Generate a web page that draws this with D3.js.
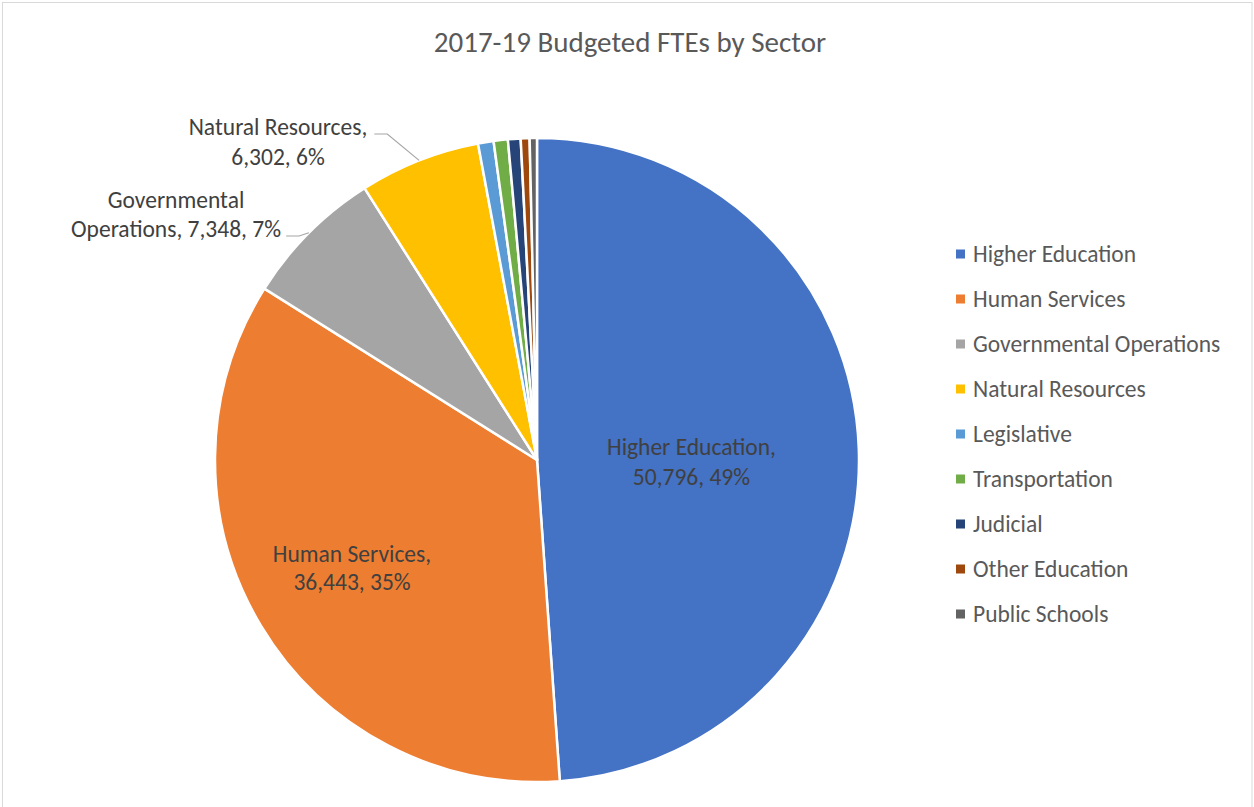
<!DOCTYPE html>
<html>
<head>
<meta charset="utf-8">
<script src="https://cdn.jsdelivr.net/npm/d3@7"></script>
<style>
  html, body { margin: 0; padding: 0; background: #fff; }
  svg { display: block; font-family: Carlito, Calibri, Lato, "Open Sans", sans-serif; }
</style>
</head>
<body>
<div id="chart"></div>
<script>
(function () {

  /* ── Data ─────────────────────────────────────────────────────────────── */
  const sectors = ['Higher Education', 'Human Services', 'Governmental Operations',
    'Natural Resources', 'Legislative', 'Transportation', 'Judicial',
    'Other Education', 'Public Schools'];
  const ftes = [50796, 36443, 7348, 6302, 810, 740, 660, 460, 380];
  const colors = ['#4472C4', '#ED7D31', '#A5A5A5', '#FFC000', '#5B9BD5',
    '#70AD47', '#264478', '#9E480E', '#636363'];
  const title = '2017-19 Budgeted FTEs by Sector';

  /* ── Layout ───────────────────────────────────────────────────────────── */
  const TW = 1254, TH = 807;
  const CX = 537, CY = 460, R = 322;
  const FS = 23.5;

  const svg = d3.select('#chart').append('svg')
    .attr('width', TW).attr('height', TH);

  // chart border
  svg.append('rect')
    .attr('x', 2.5).attr('y', 2.5)
    .attr('width', TW - 4.5).attr('height', TH + 10)
    .attr('fill', '#fff')
    .attr('stroke', '#d9d9d9').attr('stroke-width', 1);

  svg.append('text')
    .attr('x', 630).attr('y', 52)
    .attr('text-anchor', 'middle')
    .attr('font-size', 29)
    .attr('fill', '#595959')
    .text(title);

  /* ── Pie ──────────────────────────────────────────────────────────────── */
  const data = sectors.map((s, i) => ({ name: s, value: ftes[i], color: colors[i] }));
  const total = d3.sum(ftes);

  const pie = d3.pie().sort(null).value(d => d.value);
  const arcs = pie(data);
  const arc = d3.arc().innerRadius(0).outerRadius(R);

  const g = svg.append('g').attr('transform', `translate(${CX},${CY})`);

  g.selectAll('path')
    .data(arcs)
    .join('path')
    .attr('d', arc)
    .attr('fill', d => d.data.color)
    .attr('stroke', '#fff')
    .attr('stroke-width', 2.5)
    .attr('stroke-linejoin', 'round');

  const fmt = d3.format(',');
  const pct = v => Math.round(v / total * 100) + '%';
  const mid = d => (d.startAngle + d.endAngle) / 2;
  const polar = (a, r) => [r * Math.sin(a), -r * Math.cos(a)];

  /* ── Inside labels ────────────────────────────────────────────────────── */
  const inside = [
    { i: 0, rf: 0.48, dy: 0, lh: 30 },
    { i: 1, rf: 0.67, dy: -9, lh: 28 }
  ];
  inside.forEach(({ i, rf, dy, lh }) => {
    const d = arcs[i];
    const [x, y] = polar(mid(d), R * rf);
    const t = g.append('text')
      .attr('text-anchor', 'middle')
      .attr('font-size', FS)
      .attr('fill', '#404040');
    t.append('tspan').attr('x', x).attr('y', y + dy).text(d.data.name + ',');
    t.append('tspan').attr('x', x).attr('y', y + dy + lh)
      .text(fmt(d.data.value) + ', ' + pct(d.data.value));
  });

  /* ── Outside labels with leader lines ─────────────────────────────────── */
  const outside = [
    { i: 3, lines: d => [d.data.name + ',', fmt(d.data.value) + ', ' + pct(d.data.value)],
      x: 278 - CX, y: 135 - CY, lh: 30, anchorLine: 0, gap: 7, elbow: 13 },
    { i: 2, lines: d => ['Governmental', 'Operations, ' + fmt(d.data.value) + ', ' + pct(d.data.value)],
      x: 176 - CX, y: 208 - CY, lh: 29, anchorLine: 1, gap: 5, elbow: 13 }
  ];
  outside.forEach(o => {
    const d = arcs[o.i];
    const t = g.append('text')
      .attr('text-anchor', 'middle')
      .attr('font-size', FS)
      .attr('fill', '#404040');
    const spans = o.lines(d).map((s, k) =>
      t.append('tspan').attr('x', o.x).attr('y', o.y + k * o.lh).text(s));
    const bb = spans[o.anchorLine].node().getBBox();
    const ly = o.y + o.anchorLine * o.lh - 1;
    const x0 = bb.x + bb.width + o.gap;
    const edge = polar(mid(d), R);
    g.append('polyline')
      .attr('points', [[x0, ly], [x0 + o.elbow, ly], edge].map(p => p.join(',')).join(' '))
      .attr('fill', 'none')
      .attr('stroke', '#a6a6a6')
      .attr('stroke-width', 1.2);
  });

  /* ── Legend ───────────────────────────────────────────────────────────── */
  const legend = svg.append('g').attr('transform', 'translate(956,254)');
  const items = legend.selectAll('g')
    .data(data)
    .join('g')
    .attr('transform', (d, i) => `translate(0,${i * 45})`);
  items.append('rect')
    .attr('x', 0).attr('y', -4.5)
    .attr('width', 9).attr('height', 9)
    .attr('fill', d => d.color);
  items.append('text')
    .attr('x', 17).attr('y', 8)
    .attr('font-size', FS)
    .attr('fill', '#595959')
    .text(d => d.name);

})();
</script>
</body>
</html>
